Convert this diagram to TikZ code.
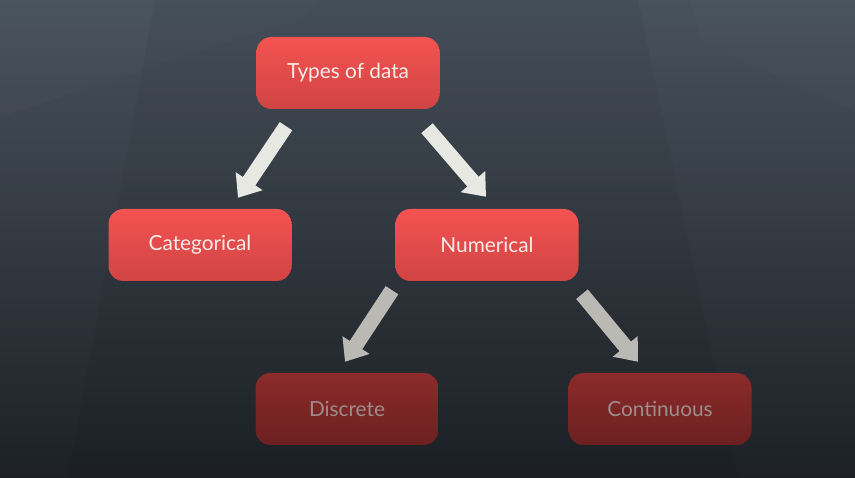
\documentclass[tikz,border=0pt]{standalone}
\usepackage{fontspec}
\setmainfont{Lato}
\usetikzlibrary{arrows.meta,calc}
\definecolor{bgtop}{HTML}{48525D}
\definecolor{bgmid}{HTML}{39424B}
\definecolor{bgbot}{HTML}{1D2126}
\definecolor{redtop}{HTML}{F45351}
\definecolor{redbot}{HTML}{CF4443}
\definecolor{dredtop}{HTML}{8C2B2B}
\definecolor{dredbot}{HTML}{6B2020}
\definecolor{lighttext}{HTML}{F6ECEA}
\definecolor{graytext}{HTML}{9E8C8A}
\definecolor{arrowlight}{HTML}{E8E8E2}
\definecolor{arrowgray}{HTML}{BAB9B4}
\tikzset{
  box/.style={rounded corners=15pt, minimum width=183pt, minimum height=72pt,
    inner sep=0pt, font=\fontsize{20.8}{24}\selectfont},
  brightbox/.style={box, top color=redtop, bottom color=redbot, text=lighttext},
  dimbox/.style={box, top color=dredtop, bottom color=dredbot, text=graytext},
  bigarrow/.style={line width=15pt, -{Triangle[length=20pt,width=31pt]}},
  toparrow/.style={bigarrow, draw=arrowlight},
  lowarrow/.style={bigarrow, draw=arrowgray},
}
\begin{document}
\begin{tikzpicture}[x=1pt,y=-1pt]
\useasboundingbox (0,0) rectangle (855,478);
% background
\shade[top color=bgtop, middle color=bgmid, bottom color=bgbot] (0,0) rectangle (855,478);
\fill[white, opacity=0.015] (0,0) -- (320,0) -- (300,18) -- (0,117) -- cycle;
\fill[white, opacity=0.01] (690,0) -- (855,0) -- (855,112) -- (700,40) -- cycle;
\fill[black, opacity=0.045] (155,0) -- (638,0) -- (738,478) -- (68,478) -- cycle;
% nodes
\node[brightbox] (top)  at (348,73)  {Types of data};
\node[brightbox] (cat)  at (200,245) {Categorical};
\node[brightbox] (num)  at (487,245) {Numerical};
\node[dimbox]    (disc) at (347,409) {Discrete};
\node[dimbox]    (cont) at (660,409) {Continuous};
% arrows
\draw[toparrow] ([shift={(-62,17)}]top.south) -- ([shift={(38,-11)}]cat.north);
\draw[toparrow] ([shift={(79,19)}]top.south) -- ([shift={(-1,-12)}]num.north);
\draw[lowarrow] ([shift={(-95,9)}]num.south) -- ([shift={(-2,-11)}]disc.north);
\draw[lowarrow] ([shift={(95,13)}]num.south) -- ([shift={(-22,-11)}]cont.north);
\end{tikzpicture}
\end{document}
